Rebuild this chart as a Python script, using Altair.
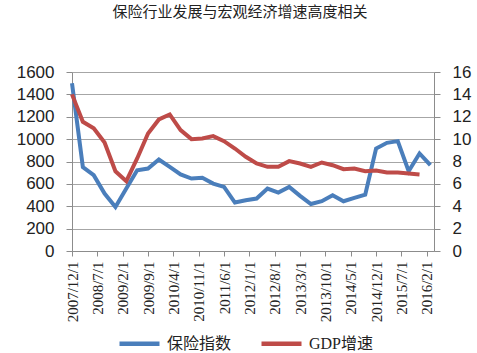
import altair as alt
import pandas as pd

# quarterly observation dates
dates = ["2007/12/1", "2008/3/1", "2008/6/1", "2008/9/1", "2008/12/1",
         "2009/3/1", "2009/6/1", "2009/9/1", "2009/12/1",
         "2010/3/1", "2010/6/1", "2010/9/1", "2010/12/1",
         "2011/3/1", "2011/6/1", "2011/9/1", "2011/12/1",
         "2012/3/1", "2012/6/1", "2012/9/1", "2012/12/1",
         "2013/3/1", "2013/6/1", "2013/9/1", "2013/12/1",
         "2014/3/1", "2014/6/1", "2014/9/1", "2014/12/1",
         "2015/3/1", "2015/6/1", "2015/9/1", "2015/12/1",
         "2016/3/1"]

insurance_index = [1500, 750, 678, 513, 394, 558, 722, 737, 818, 752, 684, 648,
                   654, 603, 573, 433, 454, 469, 558, 522, 573, 493, 420,
                   445, 498, 445, 475, 504, 916, 967, 982, 713, 872, 767]

gdp_growth = [14.0, 11.55, 10.96, 9.70, 7.13, 6.24, 8.27, 10.51, 11.76, 12.21, 10.81, 10.0,
              10.06, 10.27, 9.82, 9.16, 8.42, 7.82, 7.52, 7.52, 8.03, 7.82, 7.52,
              7.91, 7.67, 7.31, 7.37, 7.13, 7.19, 7.01, 7.01, 6.93, 6.84]

tick_labels = ["2007/12/1", "2008/7/1", "2009/2/1", "2009/9/1", "2010/4/1",
               "2010/11/1", "2011/6/1", "2012/1/1", "2012/8/1", "2013/3/1",
               "2013/10/1", "2014/5/1", "2014/12/1", "2015/7/1", "2016/2/1"]

series_names = ["保险指数", "GDP增速"]
series_colors = ["#4a7ebb", "#be4b48"]
title_text = "保险行业发展与宏观经济增速高度相关"


def month_index(s):
    y, m, _ = map(int, s.split("/"))
    return (y - 2007) * 12 + (m - 12)


df_b = pd.DataFrame({"m": [month_index(d) for d in dates],
                     "date": dates,
                     "v": insurance_index,
                     "series": series_names[0]})
df_r = pd.DataFrame({"m": [month_index(d) for d in dates[:len(gdp_growth)]],
                     "date": dates[:len(gdp_growth)],
                     "v": gdp_growth,
                     "series": series_names[1]})

tick_vals = [month_index(t) for t in tick_labels]
base_ym = 2007 * 12 + 11
label_expr = f"floor(({base_ym}+datum.value)/12) + '/' + ((({base_ym}+datum.value)%12)+1) + '/1'"

grid_col = "#a6a6a6"
axis_col = "#8c8c8c"

x_enc = alt.X("m:Q",
              scale=alt.Scale(domain=[0, 100], nice=False, zero=False),
              axis=alt.Axis(values=tick_vals, labelExpr=label_expr, title=None,
                            labelAngle=270, labelAlign="right", labelBaseline="middle",
                            labelFont="Liberation Serif", labelFontSize=15,
                            labelColor="#222222", labelPadding=5,
                            tickSize=5, tickColor=axis_col, domainColor=axis_col,
                            grid=False, labelOverlap=False))

color_enc = alt.Color("series:N",
                      scale=alt.Scale(domain=series_names, range=series_colors),
                      legend=alt.Legend(title=None, orient="none", direction="horizontal",
                                        legendX=45, legendY=249,
                                        symbolType="stroke", symbolSize=1600,
                                        symbolStrokeWidth=4.5,
                                        labelFont="Liberation Serif, Noto Sans CJK SC",
                                        labelFontSize=16, labelColor="#222222",
                                        labelOffset=5, columnPadding=20))

left = alt.Chart(df_b).mark_line(strokeWidth=4).encode(
    x=x_enc,
    y=alt.Y("v:Q",
            scale=alt.Scale(domain=[0, 1600], nice=False),
            axis=alt.Axis(values=list(range(0, 1601, 200)), title=None, format="d",
                          labelFont="Liberation Sans", labelFontSize=17,
                          labelColor="#222222", labelPadding=12,
                          tickSize=6, tickColor=axis_col, domainColor=axis_col,
                          grid=True, gridColor=grid_col, gridWidth=1.2)),
    color=color_enc,
)

right = alt.Chart(df_r).mark_line(strokeWidth=4).encode(
    x=x_enc,
    y=alt.Y("v:Q",
            scale=alt.Scale(domain=[0, 16], nice=False),
            axis=alt.Axis(values=list(range(0, 17, 2)), title=None, orient="right",
                          format="d",
                          labelFont="Liberation Sans", labelFontSize=17,
                          labelColor="#222222", labelPadding=12,
                          tickSize=6, tickColor=axis_col, domainColor=axis_col,
                          grid=False)),
    color=color_enc,
)

chart = alt.layer(left, right).resolve_scale(y="independent").properties(
    width=362, height=179,
    autosize=alt.AutoSizeParams(type="none"),
    padding={"left": 72, "top": 72, "right": 43, "bottom": 102},
    title=alt.TitleParams(title_text, font="Noto Sans CJK SC", fontSize=15,
                          fontWeight="normal", color="#222222", anchor="middle",
                          baseline="bottom", offset=28, dx=-13),
).configure_view(stroke=None).configure(background="white")

chart.save("out.html", embed_options={"renderer": "svg", "actions": False})
